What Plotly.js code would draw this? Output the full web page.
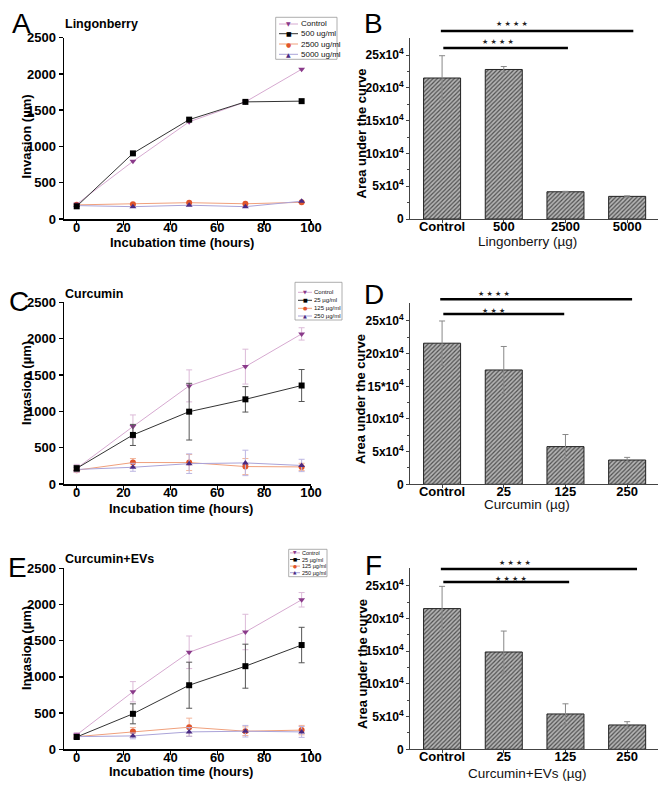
<!DOCTYPE html>
<html><head><meta charset="utf-8">
<script src="https://cdn.plot.ly/plotly-3.0.1.min.js"></script>
<style>html,body{margin:0;padding:0;background:#fff}</style>
</head><body><div id="chart" style="width:671px;height:792px"></div>
<script>
// ---------- DATA ----------
const time = [0, 24, 48, 72, 96];

// Panel A - Lingonberry invasion
const lingSeries = ['Control', '500 ug/ml', '2500 ug/ml', '5000 ug/ml'];
const lingControl = [205, 795, 1340, 1615, 2065];
const ling500 = [175, 905, 1370, 1615, 1625];
const ling2500 = [195, 205, 225, 210, 230];
const ling5000 = [185, 170, 190, 170, 245];

// Panel C - Curcumin invasion
const curSeries = ['Control', '25 µg/ml', '125 µg/ml', '250 µg/ml'];
const curControl = [215, 790, 1350, 1615, 2065];
const curControlErr = [55, 160, 220, 240, 85];
const cur25 = [215, 675, 995, 1165, 1355];
const cur25Err = [40, 145, 390, 175, 220];
const cur125 = [190, 295, 295, 240, 235];
const cur125Err = [30, 55, 110, 110, 50];
const cur250 = [200, 230, 280, 290, 255];
const cur250Err = [30, 55, 135, 175, 85];

// Panel E - Curcumin+EVs invasion
const evSeries = ['Control', '25 µg/ml', '125 µg/ml', '250 µg/ml'];
const evControl = [200, 795, 1340, 1620, 2065];
const evControlErr = [30, 140, 225, 245, 100];
const ev25 = [170, 490, 885, 1148, 1440];
const ev25Err = [30, 138, 318, 304, 245];
const ev125 = [175, 245, 305, 250, 265];
const ev125Err = [25, 55, 125, 60, 65];
const ev250 = [175, 185, 240, 250, 240];
const ev250Err = [25, 40, 60, 80, 75];

// Bar panels - area under the curve
const lingGroups = ['Control', '500', '2500', '5000'];
const lingAUC = [215000, 228000, 41500, 34500];
const lingAUCErr = [34000, 4500, 700, 800];
const curGroups = ['Control', '25', '125', '250'];
const curAUC = [216000, 175000, 57700, 37200];
const curAUCErr = [34000, 36000, 18500, 4000];
const evGroups = ['Control', '25', '125', '250'];
const evAUC = [215000, 148700, 54000, 37200];
const evAUCErr = [34000, 32000, 15500, 5000];

const invTicks = [0, 500, 1000, 1500, 2000, 2500];
const timeTicks = [0, 20, 40, 60, 80, 100];
const aucTicks = [0, 50000, 100000, 150000, 200000, 250000];
const aucTickText = ['0', '5x10<sup>4</sup>', '10x10<sup>4</sup>', '15x10<sup>4</sup>', '20x10<sup>4</sup>', '25x10<sup>4</sup>'];
const aucTickTextD = ['0', '5x10<sup>4</sup>', '10x10<sup>4</sup>', '15*10<sup>4</sup>', '20x10<sup>4</sup>', '25x10<sup>4</sup>'];
const aucMinor = [25000, 75000, 125000, 175000, 225000];

// ---------- STYLE ----------
const W = 671, H = 792;
const px = p => p / W;
const py = p => 1 - p / H;
const FONT = 'Liberation Sans, Arial, sans-serif';
const styles = [
  {symbol: 'triangle-down', mcolor: '#8a3a8a', lcolor: '#d6a9d0', ecolor: '#dcbad8', glyph: '▼'},
  {symbol: 'square', mcolor: '#000000', lcolor: '#333333', ecolor: '#555555', glyph: '■'},
  {symbol: 'circle', mcolor: '#e0552b', lcolor: '#f0a07c', ecolor: '#f2b49a', glyph: '●'},
  {symbol: 'triangle-up', mcolor: '#4a2a82', lcolor: '#aaa3d8', ecolor: '#bcb6e2', glyph: '▲'}
];

function lineTrace(xa, ya, name, y, err, i) {
  const s = styles[i];
  const t = {
    type: 'scatter', mode: 'lines+markers', x: time, y: y, name: name,
    xaxis: xa, yaxis: ya,
    line: {color: s.lcolor, width: 1},
    marker: {symbol: s.symbol, color: s.mcolor, size: 6},
    cliponaxis: false
  };
  if (err) t.error_y = {type: 'data', array: err, color: s.ecolor, thickness: 1, width: 3};
  return t;
}
function barTrace(xa, ya, groups, vals, err) {
  return {
    type: 'bar', x: groups.map((_, i) => i), y: vals, xaxis: xa, yaxis: ya, width: 0.6,
    marker: {color: '#a0a0a0', line: {color: '#222', width: 1},
      pattern: {shape: '/', fgcolor: '#505050', bgcolor: '#b4b4b4', size: 3, solidity: 0.4}},
    error_y: {type: 'data', array: err, color: '#888', thickness: 1, width: 3}
  };
}

const data = [];
// A
[ling2500, ling5000, lingControl, ling500].forEach((arr, k) => {
  const i = [2, 3, 0, 1][k];
  data.push(lineTrace('x', 'y', lingSeries[i], arr, null, i));
});
// C
[[cur125, cur125Err, 2], [cur250, cur250Err, 3], [curControl, curControlErr, 0], [cur25, cur25Err, 1]].forEach(a => {
  data.push(lineTrace('x3', 'y3', curSeries[a[2]], a[0], a[1], a[2]));
});
// E
[[ev125, ev125Err, 2], [ev250, ev250Err, 3], [evControl, evControlErr, 0], [ev25, ev25Err, 1]].forEach(a => {
  data.push(lineTrace('x5', 'y5', evSeries[a[2]], a[0], a[1], a[2]));
});
data.push(barTrace('x2', 'y2', lingGroups, lingAUC, lingAUCErr));
data.push(barTrace('x4', 'y4', curGroups, curAUC, curAUCErr));
data.push(barTrace('x6', 'y6', evGroups, evAUC, evAUCErr));

const tickFont = {family: FONT, size: 13, color: '#000', weight: 700};
function lineX(anchor) {
  return {domain: [px(64), px(311)], range: [-5.42, 100], anchor: anchor,
    tickvals: timeTicks, ticks: 'outside', ticklen: 4, tickwidth: 1.5, tickcolor: '#000', ticklabelstandoff: -8,
    showline: true, linewidth: 1.5, linecolor: '#000', showgrid: false, zeroline: false, tickfont: tickFont};
}
function lineY(anchor, top, bottom) {
  return {domain: [py(bottom), py(top)], range: [0, 2500], anchor: anchor,
    tickvals: invTicks, ticks: 'outside', ticklen: 4, tickwidth: 1.5, tickcolor: '#000',
    showline: true, linewidth: 1.5, linecolor: '#000', showgrid: false, zeroline: false, tickfont: tickFont};
}
function barX(anchor, groups) {
  return {domain: [px(410), px(658)], range: [-0.52, 3.5], anchor: anchor,
    tickvals: groups.map((_, i) => i), ticktext: groups, ticks: 'outside', ticklen: 3, tickcolor: '#444', ticklabelstandoff: -8,
    showline: true, linewidth: 1, linecolor: '#444', showgrid: false, zeroline: false, tickfont: tickFont};
}
function barY(anchor, top, bottom, ymax, ticktext) {
  return {domain: [py(bottom), py(top)], range: [0, ymax], anchor: anchor,
    tickvals: aucTicks, ticktext: ticktext, ticks: 'outside', ticklen: 3, tickcolor: '#444',
    minor: {tickmode: 'array', tickvals: aucMinor, ticks: 'outside', ticklen: 2, tickcolor: '#444'},
    showline: true, linewidth: 1, linecolor: '#444', showgrid: false, zeroline: false,
    tickfont: {family: FONT, size: 12, color: '#000', weight: 700}};
}

const annotations = [];
const shapes = [];
function ann(x, y, text, font, extra) {
  annotations.push(Object.assign({xref: 'paper', yref: 'paper', x: px(x), y: py(y), text: text,
    showarrow: false, font: font, xanchor: 'center', yanchor: 'middle', borderpad: 0}, extra || {}));
}
// panel letters
const letterFont = {family: FONT, size: 28, color: '#000'};
[['A', 21, 23], ['B', 373, 23], ['C', 18.5, 302], ['D', 374, 295], ['E', 17, 567], ['F', 373, 565]].forEach(l => ann(l[1], l[2], l[0], letterFont));
// panel titles
const titleFont = {family: FONT, size: 12.5, color: '#000', weight: 700};
ann(64, 24, 'Lingonberry', titleFont, {xanchor: 'left'});
ann(64, 294, 'Curcumin', titleFont, {xanchor: 'left'});
ann(64, 559, 'Curcumin+EVs', titleFont, {xanchor: 'left'});
// axis titles
const axFont = {family: FONT, size: 13, color: '#000', weight: 700};
const axFontR = {family: FONT, size: 13.5, color: '#111'};
ann(26, 136.5, 'Invasion (µm)', axFont, {textangle: -90});
ann(26, 383, 'Invasion (µm)', axFont, {textangle: -90});
ann(26, 648, 'Invasion (µm)', axFont, {textangle: -90});
ann(181.5, 242, 'Incubation time (hours)', axFont);
ann(180.5, 508, 'Incubation time (hours)', axFont);
ann(181, 771, 'Incubation time (hours)', axFont);
ann(361, 133.5, 'Area under the curve', axFont, {textangle: -90});
ann(360, 399, 'Area under the curve', axFont, {textangle: -90});
ann(362, 664, 'Area under the curve', axFont, {textangle: -90});
ann(527.5, 241, 'Lingonberry (µg)', axFontR);
ann(526.5, 504, 'Curcumin (µg)', axFontR);
ann(527, 773, 'Curcumin+EVs (µg)', axFontR);

// significance brackets
const starFont = {family: 'DejaVu Sans', size: 7, color: '#222'};
function sig(xa, x0, x1, lineY, starX, starY, stars) {
  shapes.push({type: 'line', xref: xa, yref: 'paper', x0: x0, x1: x1, y0: py(lineY), y1: py(lineY),
    line: {color: '#000', width: 2.5}});
  annotations.push({xref: xa, yref: 'paper', x: starX, y: py(starY), text: stars, showarrow: false,
    font: starFont, xanchor: 'center', yanchor: 'middle', borderpad: 0});
}
sig('x2', -0.02, 3.10, 31, 1.14, 24.3, '★ ★ ★ ★');
sig('x2', 0.02, 2.04, 48, 0.91, 42.3, '★ ★ ★ ★');
sig('x4', -0.03, 3.08, 299.3, 0.84, 294.3, '★ ★ ★ ★');
sig('x4', 0.02, 1.98, 314, 0.84, 311.2, '★ ★ ★');
sig('x6', -0.02, 3.16, 569, 1.18, 563.3, '★ ★ ★ ★');
sig('x6', 0.02, 2.06, 582, 1.12, 578.7, '★ ★ ★ ★');

// manual legends
function legend(box, rows, seg, textX, names, fsize, gsize) {
  shapes.push({type: 'rect', xref: 'paper', yref: 'paper', x0: px(box[0]), x1: px(box[1]), y0: py(box[3]), y1: py(box[2]),
    line: {color: '#999', width: 0.8}, fillcolor: 'rgba(255,255,255,0)'});
  names.forEach((n, i) => {
    const s = styles[i];
    shapes.push({type: 'line', xref: 'paper', yref: 'paper', x0: px(seg[0]), x1: px(seg[1]), y0: py(rows[i]), y1: py(rows[i]),
      line: {color: s.lcolor, width: 1}});
    ann((seg[0] + seg[1]) / 2, rows[i], s.glyph, {family: 'DejaVu Sans', size: gsize, color: s.mcolor});
    ann(textX, rows[i], n, {family: FONT, size: fsize, color: '#111'}, {xanchor: 'left'});
  });
}
legend([275.7, 337, 17.3, 59.3], [24, 33.7, 44, 54.3], [279, 298], 300, lingSeries, 8, 6);
legend([295, 342, 282.3, 320], [292.3, 300.3, 308.3, 316], [298, 312], 313.3, curSeries, 6, 5);
legend([288.7, 327, 549.3, 576.7], [552.9, 559.5, 566.1, 572.7], [290, 300], 301, evSeries, 5.5, 4.5);

const layout = {
  width: W, height: H, margin: {l: 0, r: 0, t: 0, b: 0},
  paper_bgcolor: '#fff', plot_bgcolor: 'rgba(0,0,0,0)', showlegend: false,
  font: {family: FONT},
  xaxis: lineX('y'), yaxis: lineY('x', 37.7, 219),
  xaxis3: lineX('y3'), yaxis3: lineY('x3', 302.3, 484),
  xaxis5: lineX('y5'), yaxis5: lineY('x5', 568.3, 749.3),
  xaxis2: barX('y2', lingGroups), yaxis2: barY('x2', 38, 219, 276000, aucTickText),
  xaxis4: barX('y4', curGroups), yaxis4: barY('x4', 302.7, 484.3, 278000, aucTickTextD),
  xaxis6: barX('y6', evGroups), yaxis6: barY('x6', 567.7, 749.3, 277500, aucTickText),
  annotations: annotations, shapes: shapes
};
Plotly.newPlot('chart', data, layout, {displayModeBar: false, staticPlot: true});
</script>
</body></html>
